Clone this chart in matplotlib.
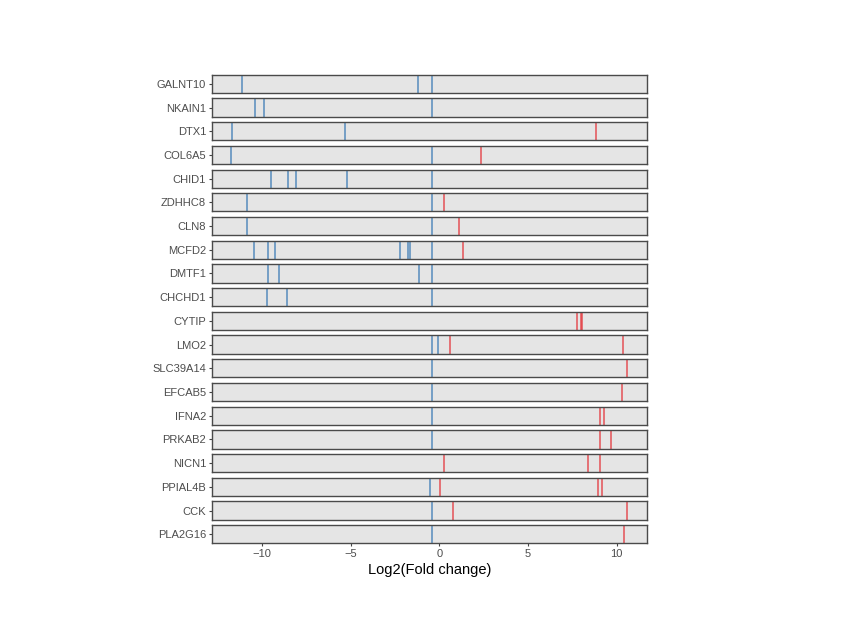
import matplotlib
matplotlib.use("Agg")
import matplotlib.pyplot as plt

plt.rcParams["font.family"] = ["Liberation Sans", "DejaVu Sans"]

genes = ["GALNT10", "NKAIN1", "DTX1", "COL6A5", "CHID1", "ZDHHC8", "CLN8",
         "MCFD2", "DMTF1", "CHCHD1", "CYTIP", "LMO2", "SLC39A14", "EFCAB5",
         "IFNA2", "PRKAB2", "NICN1", "PPIAL4B", "CCK", "PLA2G16"]

# log2 fold change of down-regulated (blue) transcripts per gene
down_fc = [
    [-11.15, -1.22, -0.41],
    [-10.4, -9.9, -0.41],
    [-11.71, -5.32],
    [-11.73, -0.41],
    [-9.49, -8.53, -8.08, -5.21, -0.41],
    [-10.87, -0.41],
    [-10.87, -0.41],
    [-10.47, -9.66, -9.28, -2.22, -1.77, -1.65, -0.41],
    [-9.66, -9.06, -1.16, -0.41],
    [-9.72, -8.57, -0.41],
    [],
    [-0.41, -0.07],
    [-0.41],
    [-0.41],
    [-0.41],
    [-0.41],
    [],
    [-0.5],
    [-0.41],
    [-0.41],
]

# log2 fold change of up-regulated (red) transcripts per gene
up_fc = [
    [],
    [],
    [8.84],
    [2.33],
    [],
    [0.28],
    [1.13],
    [1.32],
    [],
    [],
    [7.77, 7.99, 8.07],
    [0.62, 10.38],
    [10.6],
    [10.29],
    [9.05, 9.27],
    [9.05, 9.67],
    [0.28, 8.37, 9.07],
    [0.06, 8.97, 9.16],
    [0.79, 10.59],
    [10.4],
]

blue = "#3E7CB6"
red = "#E4383E"

fig, axes = plt.subplots(len(genes), 1, figsize=(8.43, 6.29), dpi=100, sharex=True)
fig.subplots_adjust(left=0.2511, right=0.7679, top=0.8812, bottom=0.1362, hspace=0.30)

for ax, gene, downs, ups in zip(axes, genes, down_fc, up_fc):
    ax.set_facecolor("#E5E5E5")
    for v in downs:
        ax.axvline(v, color=blue, lw=1.1, alpha=0.85)
    for v in ups:
        ax.axvline(v, color=red, lw=1.1, alpha=0.85)
    ax.set_ylim(0, 1)
    ax.set_yticks([0.5])
    ax.set_yticklabels([gene])
    ax.tick_params(axis="y", length=2.5, width=0.8, color="#444444",
                   labelsize=8, labelcolor="#4D4D4D", pad=1.5)
    ax.tick_params(axis="x", length=2.5, width=0.8, color="#444444",
                   labelsize=8, labelcolor="#4D4D4D", pad=1.5)
    for s in ax.spines.values():
        s.set_color("#4A4A4A")
        s.set_linewidth(1.0)
    if ax is not axes[-1]:
        ax.tick_params(axis="x", bottom=False, labelbottom=False)

axes[-1].set_xlim(-12.84, 11.73)
axes[-1].set_xticks([-10, -5, 0, 5, 10])
axes[-1].set_xticklabels(["\u221210", "\u22125", "0", "5", "10"])
axes[-1].set_xlabel("Log2(Fold change)", fontsize=10.5, labelpad=3)

fig.savefig("out.png", dpi=100)
